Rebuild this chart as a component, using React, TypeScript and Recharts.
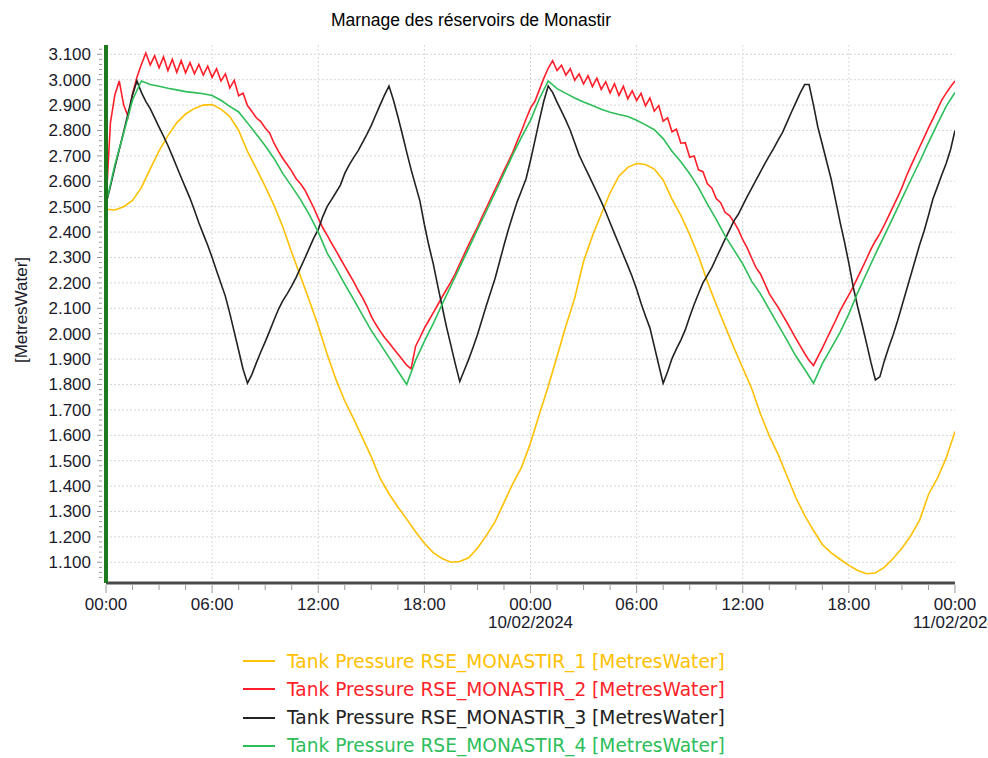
import { LineChart, Line, XAxis, YAxis, ReferenceLine } from 'recharts'

// values read every 30 min (yellow, green) and every 15 min (red, black), from 09/02 00:00 to 11/02 00:00
const yellowValues = [
  2.49, 2.487, 2.5, 2.525, 2.575, 2.649, 2.72, 2.78, 2.83, 2.865, 2.887, 2.9,
  2.902, 2.884, 2.855, 2.8, 2.718, 2.65, 2.58, 2.505, 2.42, 2.32, 2.225, 2.13,
  2.03, 1.92, 1.82, 1.735, 1.665, 1.59, 1.515, 1.43, 1.37, 1.318, 1.27, 1.22,
  1.175, 1.138, 1.115, 1.1, 1.103, 1.118, 1.155, 1.205, 1.26, 1.335, 1.41, 1.475,
  1.57, 1.683, 1.792, 1.91, 2.03, 2.14, 2.285, 2.385, 2.47, 2.555, 2.62, 2.655,
  2.67, 2.666, 2.648, 2.605, 2.53, 2.466, 2.39, 2.305, 2.205, 2.115, 2.03, 1.945,
  1.865, 1.785, 1.685, 1.598, 1.525, 1.44, 1.355, 1.285, 1.225, 1.17, 1.137, 1.112,
  1.088, 1.068, 1.055, 1.058, 1.08, 1.115, 1.155, 1.205, 1.266, 1.367, 1.43, 1.51,
  1.615,
]

const greenValues = [
  2.51, 2.665, 2.79, 2.92, 2.995, 2.981, 2.974, 2.966, 2.96, 2.953, 2.949, 2.945,
  2.938, 2.919, 2.895, 2.873, 2.83, 2.785, 2.74, 2.69, 2.63, 2.58, 2.528, 2.468,
  2.4, 2.318, 2.258, 2.195, 2.135, 2.073, 2.012, 1.96, 1.907, 1.853, 1.8, 1.895,
  1.97, 2.04, 2.115, 2.188, 2.262, 2.335, 2.41, 2.482, 2.555, 2.63, 2.705, 2.775,
  2.84, 2.925, 2.995, 2.965, 2.946, 2.928, 2.912, 2.898, 2.884, 2.872, 2.863, 2.855,
  2.84, 2.822, 2.803, 2.768, 2.718, 2.677, 2.63, 2.575, 2.51, 2.45, 2.385, 2.33,
  2.275, 2.207, 2.157, 2.096, 2.035, 1.975, 1.912, 1.86, 1.805, 1.882, 1.943, 2.005,
  2.078, 2.162, 2.238, 2.313, 2.385, 2.458, 2.532, 2.605, 2.677, 2.752, 2.825, 2.895,
  2.95,
]

const redValues = [
  2.51, 2.83, 2.94, 2.995, 2.9, 2.855, 2.945, 3.01,
  3.06, 3.105, 3.058, 3.094, 3.047, 3.09, 3.036, 3.08,
  3.029, 3.075, 3.027, 3.067, 3.023, 3.06, 3.018, 3.053,
  3.009, 3.043, 2.995, 3.023, 2.967, 2.998, 2.937, 2.947,
  2.898, 2.875, 2.85, 2.835, 2.81, 2.79, 2.75, 2.718,
  2.69, 2.665, 2.64, 2.61, 2.59, 2.565, 2.53, 2.495,
  2.455, 2.418, 2.388, 2.357, 2.327, 2.296, 2.265, 2.235,
  2.205, 2.172, 2.142, 2.108, 2.068, 2.037, 2.01, 1.985,
  1.964, 1.942, 1.92, 1.898, 1.876, 1.862, 1.95, 1.985,
  2.022, 2.052, 2.082, 2.113, 2.144, 2.174, 2.204, 2.237,
  2.275, 2.312, 2.35, 2.385, 2.42, 2.458, 2.495, 2.532,
  2.568, 2.605, 2.642, 2.678, 2.715, 2.758, 2.8, 2.845,
  2.888, 2.915, 2.96, 3.005, 3.045, 3.075, 3.036, 3.057,
  3.018, 3.043, 2.998, 3.023, 2.983, 3.016, 2.973, 3.006,
  2.962, 2.992, 2.948, 2.984, 2.938, 2.974, 2.925, 2.956,
  2.918, 2.946, 2.897, 2.928, 2.876, 2.898, 2.837, 2.85,
  2.795, 2.805, 2.75, 2.752, 2.695, 2.7, 2.645, 2.638,
  2.59, 2.574, 2.532, 2.516, 2.478, 2.465, 2.44, 2.41,
  2.37, 2.338, 2.298, 2.26, 2.235, 2.197, 2.158, 2.13,
  2.104, 2.074, 2.044, 2.013, 1.982, 1.952, 1.922, 1.895,
  1.875, 1.91, 1.943, 1.98, 2.016, 2.052, 2.09, 2.122,
  2.153, 2.185, 2.222, 2.258, 2.295, 2.333, 2.365, 2.394,
  2.427, 2.464, 2.5, 2.537, 2.575, 2.62, 2.66, 2.697,
  2.735, 2.772, 2.81, 2.846, 2.882, 2.92, 2.947, 2.972,
  2.995,
]

const blackValues = [
  2.51, 2.58, 2.655, 2.725, 2.795, 2.868, 2.94, 2.995,
  2.95, 2.915, 2.886, 2.85, 2.813, 2.778, 2.741, 2.7,
  2.657, 2.615, 2.574, 2.533, 2.486, 2.437, 2.392, 2.348,
  2.3, 2.248, 2.198, 2.147, 2.08, 2.007, 1.934, 1.86,
  1.805, 1.84, 1.885, 1.928, 1.968, 2.01, 2.054, 2.096,
  2.13, 2.158, 2.188, 2.222, 2.26, 2.298, 2.338, 2.377,
  2.41, 2.46, 2.5, 2.528, 2.556, 2.585, 2.631, 2.665,
  2.693, 2.72, 2.752, 2.785, 2.82, 2.861, 2.901, 2.94,
  2.975, 2.92, 2.855, 2.786, 2.715, 2.646, 2.584, 2.522,
  2.43, 2.348, 2.276, 2.19, 2.108, 2.027, 1.954, 1.88,
  1.812, 1.855, 1.898, 1.946, 1.996, 2.053, 2.11, 2.164,
  2.218, 2.283, 2.348, 2.41, 2.466, 2.52, 2.565, 2.61,
  2.682, 2.76, 2.84, 2.915, 2.975, 2.95, 2.912, 2.876,
  2.84, 2.8, 2.752, 2.703, 2.666, 2.63, 2.594, 2.557,
  2.52, 2.48, 2.437, 2.394, 2.352, 2.31, 2.268, 2.224,
  2.175, 2.12, 2.07, 2.023, 1.95, 1.877, 1.805, 1.85,
  1.902, 1.94, 1.975, 2.015, 2.067, 2.115, 2.158, 2.2,
  2.23, 2.26, 2.298, 2.335, 2.372, 2.408, 2.444, 2.47,
  2.505, 2.54, 2.572, 2.605, 2.637, 2.67, 2.7, 2.73,
  2.762, 2.793, 2.832, 2.872, 2.91, 2.948, 2.981, 2.981,
  2.9, 2.812, 2.745, 2.676, 2.608, 2.525, 2.44, 2.362,
  2.277, 2.183, 2.105, 2.035, 1.962, 1.886, 1.818, 1.83,
  1.892, 1.946, 1.995, 2.05, 2.11, 2.17, 2.23, 2.29,
  2.35, 2.403, 2.465, 2.53, 2.577, 2.625, 2.67, 2.725,
  2.8,
]

const yMajorTicks = [
  1.1, 1.2, 1.3, 1.4, 1.5, 1.6, 1.7, 1.8, 1.9, 2.0, 2.1,
  2.2, 2.3, 2.4, 2.5, 2.6, 2.7, 2.8, 2.9, 3.0, 3.1,
]
const timeLabels = ['00:00', '06:00', '12:00', '18:00']
const dateLabels = ['', '10/02/2024', '11/02/2024']
const seriesNames = [
  'Tank Pressure RSE_MONASTIR_1 [MetresWater]',
  'Tank Pressure RSE_MONASTIR_2 [MetresWater]',
  'Tank Pressure RSE_MONASTIR_3 [MetresWater]',
  'Tank Pressure RSE_MONASTIR_4 [MetresWater]',
]
const colors = ['#FFC000', '#FF1F2A', '#222222', '#2DBE5A']

const yellowData = yellowValues.map((v, i) => ({ t: i / 2, v }))
const greenData = greenValues.map((v, i) => ({ t: i / 2, v }))
const redData = redValues.map((v, i) => ({ t: i / 4, v }))
const blackData = blackValues.map((v, i) => ({ t: i / 4, v }))

const yTicks = Array.from({ length: 105 }, (_, i) => +(1.04 + i * 0.02).toFixed(2))
const xTicks = Array.from({ length: 33 }, (_, i) => i * 1.5)
const xGrid = [6, 12, 18, 24, 30, 36, 42]

const font = '"Liberation Sans", Arial, sans-serif'

const YTick = (props: any) => {
  const { x, y, payload } = props
  const v = payload.value
  const major = Math.abs(v * 10 - Math.round(v * 10)) < 1e-6
  return (
    <g>
      <line x1={x - (major ? 9 : 7)} x2={x - 4} y1={y} y2={y} stroke="#9a9a9a" />
      {major && (
        <text x={x - 15} y={y + 6} textAnchor="end" fontSize={17} fill="#1a1a2a" fontFamily={font}>
          {v.toFixed(3)}
        </text>
      )}
    </g>
  )
}

const XTick = (props: any) => {
  const { x, y, payload } = props
  const t = payload.value
  const major = t % 6 === 0
  const date = t > 0 && t % 24 === 0 ? dateLabels[t / 24] : ''
  return (
    <g>
      <line x1={x} x2={x} y1={y + 2} y2={y + (major ? 10 : 7)} stroke="#9a9a9a" />
      {major && (
        <text x={x} y={y + 27} textAnchor="middle" fontSize={17} fill="#1a1a2a" fontFamily={font}>
          {timeLabels[(t / 6) % 4]}
        </text>
      )}
      {date && (
        <text x={x} y={y + 45} textAnchor="middle" fontSize={17} fill="#1a1a2a" fontFamily={font}>
          {date}
        </text>
      )}
    </g>
  )
}

export default function App() {
  document.body.style.margin = '0'
  return (
    <div style={{ position: 'relative', width: 988, height: 758, background: '#fff', fontFamily: font, overflow: 'hidden' }}>
      <div style={{ position: 'absolute', left: 0, top: 10, width: 942, textAlign: 'center', fontSize: 17.5, color: '#000' }}>
        Marnage des réservoirs de Monastir
      </div>
      <div
        style={{
          position: 'absolute', left: -43, top: 300, width: 130, textAlign: 'center',
          fontSize: 17, color: '#1a1a2a', transform: 'rotate(-90deg)',
        }}
      >
        [MetresWater]
      </div>

      <LineChart width={988} height={758} margin={{ top: 45, right: 33, bottom: 145, left: 8 }}>
        <XAxis
          dataKey="t"
          type="number"
          domain={[0, 48]}
          ticks={xTicks}
          interval={0}
          height={30}
          allowDataOverflow
          axisLine={{ stroke: '#4a4a4a', strokeWidth: 3 }}
          tickLine={false}
          tickSize={0}
          tickMargin={0}
          tick={<XTick />}
        />
        <YAxis
          type="number"
          domain={[1.0185, 3.1366]}
          ticks={yTicks}
          interval={0}
          width={98}
          allowDataOverflow
          axisLine={{ stroke: '#1f7a1f', strokeWidth: 4 }}
          tickLine={false}
          tickSize={0}
          tickMargin={0}
          tick={<YTick />}
        />
        {yMajorTicks.map(v => (
          <ReferenceLine key={'y' + v} y={v} stroke="#d6d6d6" strokeDasharray="2 2" />
        ))}
        {xGrid.map(t => (
          <ReferenceLine key={'x' + t} x={t} stroke="#d6d6d6" strokeDasharray="2 2" />
        ))}
        <Line data={yellowData} dataKey="v" stroke={colors[0]} strokeWidth={1.6} dot={false} isAnimationActive={false} />
        <Line data={redData} dataKey="v" stroke={colors[1]} strokeWidth={1.6} dot={false} isAnimationActive={false} />
        <Line data={blackData} dataKey="v" stroke={colors[2]} strokeWidth={1.6} dot={false} isAnimationActive={false} />
        <Line data={greenData} dataKey="v" stroke={colors[3]} strokeWidth={1.6} dot={false} isAnimationActive={false} />
      </LineChart>

      {seriesNames.map((name, i) => (
        <div
          key={name}
          style={{
            position: 'absolute', left: 243, top: 649 + i * 28.3, height: 24,
            display: 'flex', alignItems: 'center',
          }}
        >
          <div style={{ width: 32, height: 2, background: colors[i], marginRight: 12 }} />
          <span style={{ color: colors[i], fontSize: 18.6, fontFamily: '"DejaVu Sans", sans-serif', whiteSpace: 'nowrap' }}>
            {name}
          </span>
        </div>
      ))}
    </div>
  )
}
